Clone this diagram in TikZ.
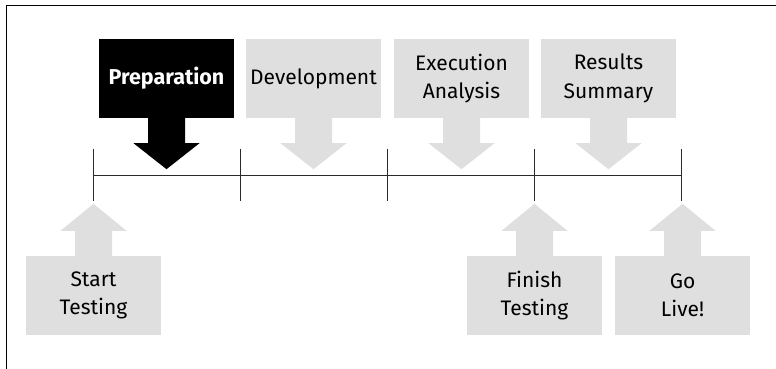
\documentclass[tikz,border=0pt]{standalone}
\usepackage{fontspec}
\setmainfont{Fira Sans}
\usetikzlibrary{calc}
\definecolor{boxgrey}{HTML}{E0DFE0}
\definecolor{linegrey}{HTML}{2A2A2A}
\tikzset{
  phase/.style={fill=boxgrey, minimum width=135pt, minimum height=79pt, inner sep=0pt,
    align=center, font=\fontsize{21}{28.5}\selectfont, text=black},
  phaseblack/.style={phase, fill=black, text=white, font=\fontsize{21.5}{28.5}\selectfont\bfseries},
  tl/.style={draw=linegrey, line width=1pt},
}
\newcommand{\downarrowfrom}[2]{%
  \fill[#2] ($(#1.south)+(-18.5,0)$) -- ($(#1.south)+(-18.5,25)$) -- ($(#1.south)+(-33,25)$)
    -- ($(#1.south)+(0,51)$) -- ($(#1.south)+(33,25)$) -- ($(#1.south)+(18.5,25)$)
    -- ($(#1.south)+(18.5,0)$) -- cycle;}
\newcommand{\uparrowfrom}[2]{%
  \fill[#2] ($(#1.north)+(-18.5,0)$) -- ($(#1.north)+(-18.5,-25)$) -- ($(#1.north)+(-33,-25)$)
    -- ($(#1.north)+(0,-52)$) -- ($(#1.north)+(33,-25)$) -- ($(#1.north)+(18.5,-25)$)
    -- ($(#1.north)+(18.5,0)$) -- cycle;}
\begin{document}
\begin{tikzpicture}[x=1pt,y=-1pt]
\useasboundingbox (0,0) rectangle (776,369);
\draw[line width=1pt] (6,369) -- (6,6) -- (776,6);
% timeline
\coordinate (t0) at (93,175.5);
\coordinate (t1) at (240,175.5);
\coordinate (t2) at (387,175.5);
\coordinate (t3) at (534,175.5);
\coordinate (t4) at (681,175.5);
\draw[tl] (t0) -- (t4);
\foreach \t in {t0,t1,t2,t3,t4}{\draw[tl] ($(\t)+(0,-27)$) -- ($(\t)+(0,25)$);}
% top boxes
\node[phaseblack] (prep) at (166.5,78.5) {Preparation};
\node[phase] (dev) at (313.5,78.5) {Development};
\node[phase] (exec) at (461.5,78.5) {Execution\\Analysis};
\node[phase] (res) at (608.5,78.5) {Results\\Summary};
\downarrowfrom{prep}{black}
\downarrowfrom{dev}{boxgrey}
\downarrowfrom{exec}{boxgrey}
\downarrowfrom{res}{boxgrey}
% bottom boxes
\node[phase] (start) at (93.5,295.5) {Start\\Testing};
\node[phase] (finish) at (534.5,295.5) {Finish\\Testing};
\node[phase] (live) at (682.5,295.5) {Go\\Live!};
\uparrowfrom{start}{boxgrey}
\uparrowfrom{finish}{boxgrey}
\uparrowfrom{live}{boxgrey}
\end{tikzpicture}
\end{document}
